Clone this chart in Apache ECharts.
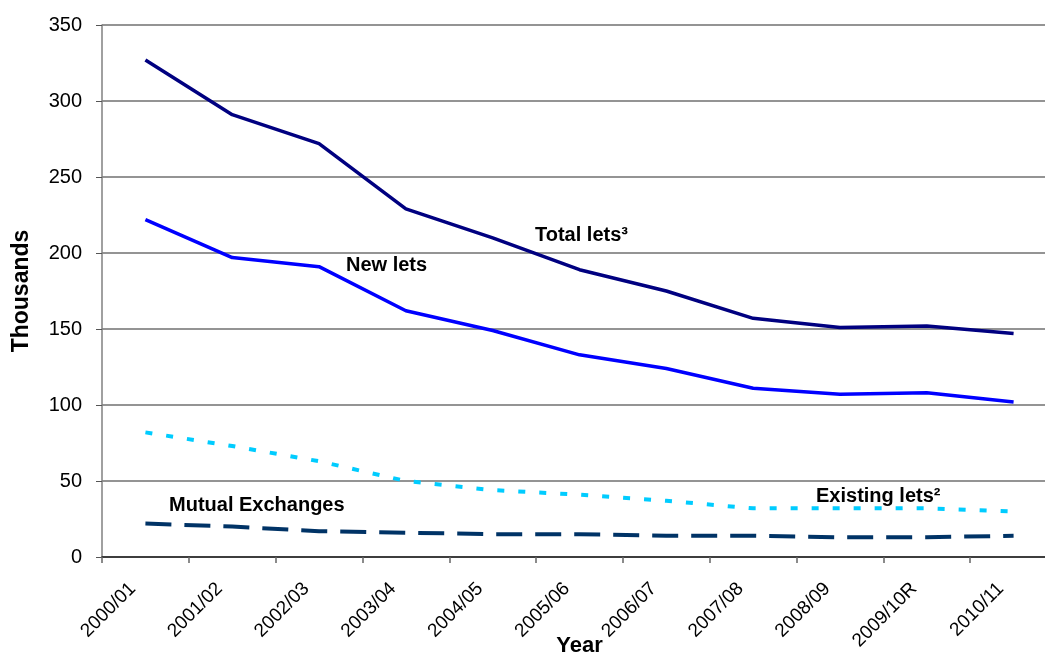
<!DOCTYPE html>
<html>
<head>
<meta charset="utf-8">
<script src="https://cdn.jsdelivr.net/npm/echarts@6/dist/echarts.min.js"></script>
<style>
html,body{margin:0;padding:0;background:#fff;}
#chart{width:1045px;height:654px;}
</style>
</head>
<body>
<div id="chart"></div>
<script>
const years = ['2000/01','2001/02','2002/03','2003/04','2004/05','2005/06','2006/07','2007/08','2008/09','2009/10R','2010/11'];
const totalLets = [327, 291, 272, 229, 210, 189, 175, 157, 151, 152, 147];
const newLets = [222, 197, 191, 162, 149, 133, 124, 111, 107, 108, 102];
const existingLets = [82, 73, 63, 50, 44, 41, 37, 32, 32, 32, 30];
const mutualExchanges = [22, 20, 17, 16, 15, 15, 14, 14, 13, 13, 14];
const yTicks = [0, 50, 100, 150, 200, 250, 300, 350];

const FONT = '"Liberation Sans", Arial, sans-serif';
const chart = echarts.init(document.getElementById('chart'), null, {renderer: 'canvas'});

function annot(text, x, y) {
  return {
    type: 'text', x: x, y: y, z: 100,
    style: { text: text, fill: '#000', font: 'bold 20px ' + FONT, textVerticalAlign: 'middle' }
  };
}

chart.setOption({
  animation: false,
  backgroundColor: '#fff',
  grid: { left: 102, top: 25, width: 955, height: 532, containLabel: false, outerBoundsMode: 'none' },
  xAxis: {
    type: 'category',
    data: years,
    boundaryGap: true,
    name: 'Year',
    nameLocation: 'middle',
    nameGap: 78,
    nameMoveOverlap: false,
    nameTextStyle: { fontFamily: FONT, fontWeight: 'bold', fontSize: 22, color: '#000' },
    axisLine: { lineStyle: { color: '#222', width: 1.5 } },
    axisTick: { show: true, length: 6, lineStyle: { color: '#666', width: 1.5 } },
    axisLabel: { rotate: 45, fontFamily: FONT, fontSize: 19, color: '#000', margin: 16, interval: 0,
                 padding: [0, 18, 0, 0] },
    splitLine: { show: false }
  },
  yAxis: {
    type: 'value',
    min: yTicks[0],
    max: yTicks[yTicks.length - 1],
    interval: 50,
    name: 'Thousands',
    nameLocation: 'middle',
    nameGap: 69,
    nameRotate: 90,
    nameMoveOverlap: false,
    nameTextStyle: { fontFamily: FONT, fontWeight: 'bold', fontSize: 23, color: '#000' },
    axisLine: { show: true, lineStyle: { color: '#808080', width: 1.5 } },
    axisTick: { show: true, length: 6, lineStyle: { color: '#555', width: 1 } },
    axisLabel: { fontFamily: FONT, fontSize: 20, color: '#000', margin: 20 },
    splitLine: { show: true, lineStyle: { color: '#707070', width: 1.5 } }
  },
  series: [
    { name: 'Total lets', type: 'line', data: totalLets, showSymbol: false, symbol: 'none',
      lineStyle: { color: '#000080', width: 3.5 }, z: 5 },
    { name: 'New lets', type: 'line', data: newLets, showSymbol: false, symbol: 'none',
      lineStyle: { color: '#0000FF', width: 3.5 }, z: 5 },
    { name: 'Existing lets', type: 'line', data: existingLets, showSymbol: false, symbol: 'none',
      lineStyle: { color: '#00CCFF', width: 4, type: [7, 14] }, z: 5 },
    { name: 'Mutual Exchanges', type: 'line', data: mutualExchanges, showSymbol: false, symbol: 'none',
      lineStyle: { color: '#003366', width: 4, type: [26, 13] }, z: 5 }
  ],
  graphic: [
    annot('Total lets\u00B3', 535, 235),
    annot('New lets', 346, 265),
    annot('Existing lets\u00B2', 816, 496),
    annot('Mutual Exchanges', 169, 505)
  ]
});
</script>
</body>
</html>
